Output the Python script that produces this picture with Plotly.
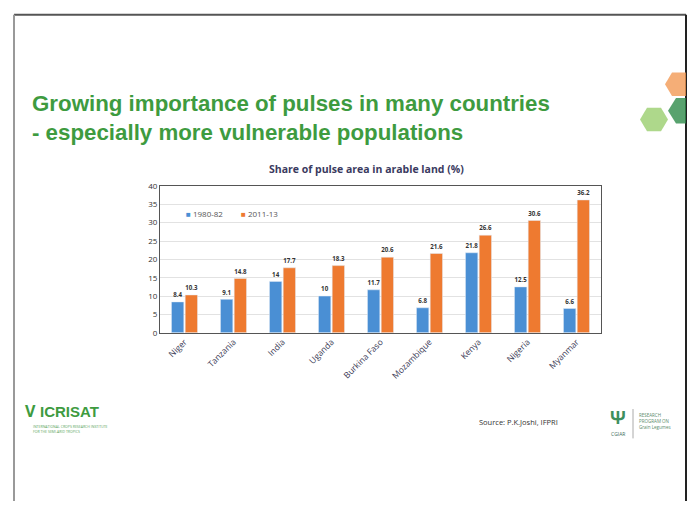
import plotly.graph_objects as go

# Share of pulse area in arable land (%)
countries = ["Niger", "Tanzania", "India", "Uganda", "Burkina Faso",
             "Mozambique", "Kenya", "Nigeria", "Myanmar"]
share_1980_82 = [8.4, 9.1, 14, 10, 11.7, 6.8, 21.8, 12.5, 6.6]
share_2011_13 = [10.3, 14.8, 17.7, 18.3, 20.6, 21.6, 26.6, 30.6, 36.2]
series_names = ["1980-82", "2011-13"]
y_ticks = [0, 5, 10, 15, 20, 25, 30, 35, 40]

W, H = 694, 506


def px(x):
    return x / W


def py(y):
    return 1 - y / H


def poly(points):
    return "M" + " L".join(f"{px(x)},{py(y)}" for x, y in points) + " Z"


BLUE = "#4A8FD4"
ORANGE = "#EE7A30"
LABEL = "#3A3A55"

fig = go.Figure()
for name, vals, color in zip(series_names, [share_1980_82, share_2011_13], [BLUE, ORANGE]):
    fig.add_trace(go.Bar(
        x=countries, y=vals, name=name, marker_color=color, showlegend=False,
        text=[f"{v:g}" for v in vals], textposition="outside",
        textfont=dict(size=7, color="#333", family="Open Sans, Arial", weight="bold"),
        cliponaxis=False,
    ))

shapes = [
    # slide frame
    dict(type="line", xref="paper", yref="paper", x0=px(14), x1=px(686), y0=py(9), y1=py(9),
         line=dict(color="#555", width=2)),
    dict(type="line", xref="paper", yref="paper", x0=px(14), x1=px(14), y0=py(9), y1=0,
         line=dict(color="#999", width=2)),
    dict(type="line", xref="paper", yref="paper", x0=px(686), x1=px(686), y0=py(9), y1=0,
         line=dict(color="#222", width=2)),
    # decorative hexagons, upper right
    dict(type="path", xref="paper", yref="paper",
         path=poly([(672, 68), (686, 68), (686, 92), (672, 92), (665, 80)]),
         fillcolor="#F39A55", line=dict(width=0), opacity=0.8),
    dict(type="path", xref="paper", yref="paper",
         path=poly([(676, 94), (686, 94), (686, 120), (676, 120), (668, 107)]),
         fillcolor="#2E8B4A", line=dict(width=0), opacity=0.8),
    dict(type="path", xref="paper", yref="paper",
         path=poly([(647, 104), (661, 104), (668, 116), (661, 128), (647, 128), (640, 116)]),
         fillcolor="#8CC85A", line=dict(width=0), opacity=0.7),
    # CGIAR logo divider
    dict(type="line", xref="paper", yref="paper", x0=px(633), x1=px(633), y0=py(412), y1=py(442),
         line=dict(color="#aaa", width=1)),
]

# compact legend: coloured square followed by the series name
legend_x = [184, 239]
annotations = [
    dict(text=f"<span style='color:{c}'>■</span> {n}", x=px(x0), y=py(212),
         xref="paper", yref="paper", xanchor="left", yanchor="middle", showarrow=False,
         font=dict(family="Open Sans, Arial", size=8, color="#555"))
    for n, c, x0 in zip(series_names, [BLUE, ORANGE], legend_x)
]

annotations += [
    dict(text="<b>Growing importance of pulses in many countries<br>- especially more vulnerable populations</b>",
         x=px(30), y=py(85), xref="paper", yref="paper", xanchor="left", yanchor="top",
         showarrow=False, align="left",
         font=dict(family="Liberation Sans, Arial", size=22.3, color="#3E9B3F")),
    dict(text="<b>Share of pulse area in arable land (%)</b>",
         x=px(366), y=py(167), xref="paper", yref="paper", xanchor="center", yanchor="middle",
         showarrow=False, font=dict(family="Open Sans, Arial", size=10.5, color="#3A3A60")),
    dict(text="<b>ICRISAT</b>",
         x=px(38), y=py(415), xref="paper", yref="paper", xanchor="left", yanchor="middle",
         showarrow=False, font=dict(family="Liberation Sans, Arial", size=15, color="#3E9B3F")),
    dict(text="<b>V</b>", x=px(30), y=py(414), xref="paper", yref="paper", xanchor="center",
         yanchor="middle", showarrow=False, font=dict(size=16, color="#3E9B3F")),
    dict(text="INTERNATIONAL CROPS RESEARCH INSTITUTE<br>FOR THE SEMI-ARID TROPICS",
         x=px(31), y=py(432), xref="paper", yref="paper", xanchor="left", yanchor="middle",
         showarrow=False, align="left", font=dict(size=3.5, color="#5aa55a")),
    dict(text="Source: P.K.Joshi, IFPRI",
         x=px(477), y=py(425), xref="paper", yref="paper", xanchor="left", yanchor="middle",
         showarrow=False, font=dict(family="Open Sans, Arial", size=7.5, color="#333")),
    dict(text="<b>Ψ</b>", x=px(618), y=py(420), xref="paper", yref="paper", xanchor="center",
         yanchor="middle", showarrow=False, font=dict(size=18, color="#3E8F5E")),
    dict(text="CGIAR", x=px(618), y=py(438), xref="paper", yref="paper", xanchor="center",
         yanchor="middle", showarrow=False, font=dict(size=5, color="#3E6F5E")),
    dict(text="RESEARCH<br>PROGRAM ON<br>Grain Legumes", x=px(637), y=py(424), xref="paper",
         yref="paper", xanchor="left", yanchor="middle", showarrow=False, align="left",
         font=dict(size=4.5, color="#5a8a6a")),
]

fig.update_layout(
    width=W, height=H,
    margin=dict(l=0, r=0, t=0, b=0),
    paper_bgcolor="white", plot_bgcolor="white",
    barmode="group", bargap=0.44, bargroupgap=0.1,
    showlegend=False,
    xaxis=dict(domain=[px(160), px(601)], tickangle=-45,
               tickfont=dict(family="Open Sans, Arial", size=8.5, color=LABEL),
               showline=True, linecolor="#555", linewidth=1, mirror=True,
               ticks="", showgrid=False),
    yaxis=dict(domain=[py(334), py(184)], range=[0, 40], tickvals=y_ticks,
               tickfont=dict(family="Open Sans, Arial", size=8, color="#333"),
               showline=True, linecolor="#555", linewidth=1, mirror=True,
               gridcolor="#E2E2E2", zeroline=False, ticks=""),
    shapes=shapes,
    annotations=annotations,
    uniformtext=dict(minsize=6, mode="show"),
)

fig.write_html("out.html")
